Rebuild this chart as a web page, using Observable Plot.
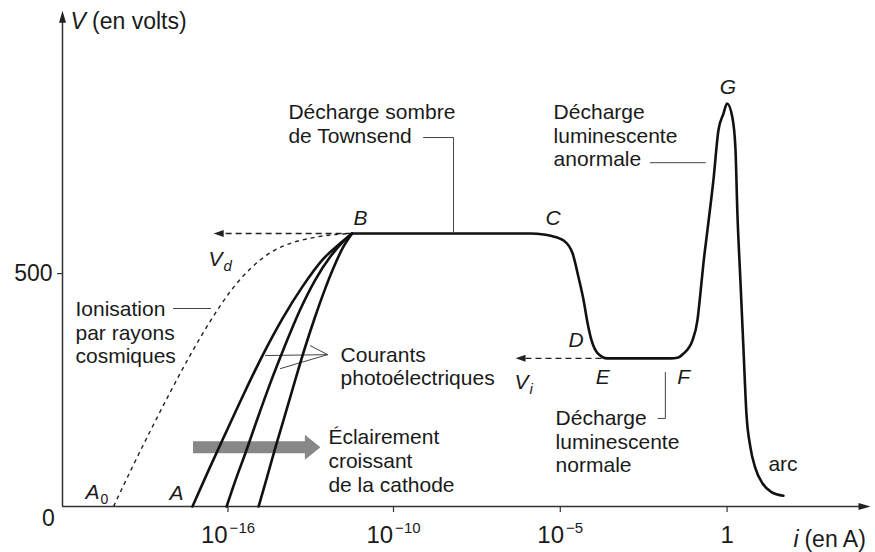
<!DOCTYPE html>
<html>
<head>
<meta charset="utf-8">
<script src="https://cdn.jsdelivr.net/npm/d3@7"></script>
<script src="https://cdn.jsdelivr.net/npm/@observablehq/plot@0.6"></script>
<style>
  body { margin: 0; background: #fff; }
  #chart svg { display: block; }
</style>
</head>
<body>
<div id="chart"></div>
<script>
// Caractéristique tension–courant d'une décharge dans un gaz.
// Le courant est porté par son exposant décimal (i = 10^x A), la tension en volts.

// Graduations
const xTicks = [-16, -10, -5, 0];
const xTickBase = ["10", "10", "10", "1"];
const xTickExp = ["−16", "−10", "−5", ""];
const yTicks = [0, 500];
const yTickLabels = ["0", "500"];

// Courbe principale B → C → D → E → F → G → arc
const mainLogI = [-11.5, -8.3, -5.9, -5.5, -5.29, -4.90, -4.63, -4.45, -4.30, -4.18, -4.06, -3.89, -3.59,
  -1.70, -1.46, -1.31, -1.04, -0.89, -0.80, -0.71, -0.59, -0.41, -0.26, -0.11, 0, 0.16, 0.25, 0.31,
  0.40, 0.49, 0.58, 0.70, 0.85, 1.06, 1.33, 1.69];
const mainV = [586, 586, 586, 584, 581, 571, 543, 491, 442, 393, 356, 330, 318,
  318, 320, 328, 356, 399, 457, 521, 592, 700, 807, 843, 865, 835, 770, 629,
  485, 341, 200, 127, 82, 50, 31, 23];

// Courants photoélectriques (éclairement croissant de la cathode)
const photo1LogI = [-17.29, -16.71, -16.09, -15.44, -14.75, -14.02, -13.30, -12.57, -11.99, -11.5];
const photo1V = [0, 77, 157, 240, 324, 404, 472, 530, 562, 586];
const photo2LogI = [-16.05, -15.73, -15.36, -14.93, -14.46, -13.95, -13.41, -12.83, -12.28, -11.85, -11.5];
const photo2V = [0, 56, 116, 189, 266, 343, 419, 487, 537, 567, 586];
const photo3LogI = [-14.89, -14.60, -14.28, -13.95, -13.59, -13.23, -12.86, -12.50, -12.17, -11.85, -11.5];
const photo3V = [0, 60, 127, 193, 266, 337, 404, 464, 513, 554, 586];

// Ionisation par rayons cosmiques (A0 → B)
const cosmicLogI = [-20.15, -19.53, -18.81, -18.08, -17.36, -16.63, -15.91, -15.18, -14.46, -13.73, -13.01, -12.28, -11.5];
const cosmicV = [0, 77, 163, 247, 326, 399, 462, 511, 545, 565, 576, 583, 586];

// Tensions de disruption Vd et d'entretien Vi
const levelArrows = [
  {name: "Vd", from: -11.5, to: -16.52, v: 586},
  {name: "Vi", from: -3.75, to: -6.34, v: 318}
];

// Flèche « éclairement croissant »
const lightArrow = {from: -17.25, to: -13.19, tip: -12.65, v: 127};

// Traits de rappel des annotations
const leaders = [
  {id: "townsend", pts: [[-9.10, 792], [-8.20, 792], [-8.20, 590]]},
  {id: "cosmic", pts: [[-17.98, 425], [-16.63, 425]]},
  {id: "anormale", pts: [[-2.30, 738], [-0.65, 738]]},
  {id: "normale", pts: [[-1.85, 288], [-1.85, 189], [-2.07, 189]]},
  {id: "photo1", pts: [[-12.39, 326], [-14.64, 324]]},
  {id: "photo2", pts: [[-12.39, 326], [-14.10, 296]]},
  {id: "photo3", pts: [[-12.39, 326], [-13.01, 345]]}
];

// Textes des régimes
const notes = [
  {x: -21.53, y: 307, text: "Ionisation\npar rayons\ncosmiques"},
  {x: -13.81, y: 781, text: "Décharge sombre\nde Townsend"},
  {x: -11.92, y: 260, text: "Courants\nphotoélectriques"},
  {x: -12.36, y: 32, text: "Éclairement\ncroissant\nde la cathode"},
  {x: -5.20, y: 730, text: "Décharge\nluminescente\nanormale"},
  {x: -5.14, y: 73, text: "Décharge\nluminescente\nnormale"},
  {x: 1.24, y: 77, text: "arc"}
];

// Titres des axes : symbole en italique puis unité
const axisTitles = [
  {x: -21.71, y: 1026, sym: "V", ux: -20.93, unit: "(en volts)"},
  {x: 1.99, y: -86, sym: "i", ux: 2.32, unit: "(en A)"}
];

// Lettres des points remarquables et symboles (italique)
const letters = [
  {x: -11.45, y: 605, text: "B"},
  {x: -5.44, y: 605, text: "C"},
  {x: -4.75, y: 343, text: "D"},
  {x: -3.94, y: 262, text: "E"},
  {x: -1.49, y: 262, text: "F"},
  {x: -0.22, y: 886, text: "G"},
  {x: -18.12, y: 13, text: "A"},
  {x: -21.17, y: 17, text: "A"},
  {x: -16.71, y: 517, text: "V"},
  {x: -6.37, y: 253, text: "V"}
];
const subscripts = [
  {x: -20.62, y: 6, text: "0", italic: false},
  {x: -16.16, y: 506, text: "d", italic: true},
  {x: -5.92, y: 242, text: "i", italic: true}
];

const font = "'Liberation Sans', Arial, Helvetica, sans-serif";
const ink = "#1a1a1a";
const pts = (xs, ys) => xs.map((x, i) => ({x, y: ys[i]}));

// Pointe de flèche pleine, sommet à l'origine, orientée vers +x
const head = (len, half) => ({
  draw(ctx) { ctx.moveTo(0, 0); ctx.lineTo(-len, -half); ctx.lineTo(-len, half); ctx.closePath(); }
});

const mainCurve = pts(mainLogI, mainV);
const photoCurves = [[photo1LogI, photo1V], [photo2LogI, photo2V], [photo3LogI, photo3V]]
  .flatMap(([xs, ys], k) => pts(xs, ys).map(d => ({...d, k})));
const cosmicCurve = pts(cosmicLogI, cosmicV);
const leaderPts = leaders.flatMap(l => l.pts.map(([x, y]) => ({x, y, id: l.id})));

// Libellés des graduations du courant : base puis exposant, l'ensemble centré sur la graduation
const tickRows = xTicks.map((t, i) => ({x: t, base: xTickBase[i], exp: xTickExp[i]}));
const tickMarks = tickRows.flatMap(r => {
  if (!r.exp) {
    return [Plot.text([r], {x: "x", y: 0, text: "base", textAnchor: "middle", lineAnchor: "bottom",
      dy: 36, fontSize: 24, fill: ink})];
  }
  const wBase = 24 * 0.556 * r.base.length;
  const wExp = 15 * (0.584 + 0.556 * (r.exp.length - 1));
  const off = (wBase - 2 - wExp) / 2;
  return [
    Plot.text([r], {x: "x", y: 0, text: "base", textAnchor: "end", lineAnchor: "bottom",
      dx: off, dy: 36, fontSize: 24, fill: ink}),
    Plot.text([r], {x: "x", y: 0, text: "exp", textAnchor: "start", lineAnchor: "bottom",
      dx: off + 2, dy: 26, fontSize: 15, fill: ink})
  ];
});

const chart = Plot.plot({
  width: 875,
  height: 552,
  marginLeft: 62, marginRight: 5, marginTop: 8, marginBottom: 46,
  x: {type: "linear", domain: [-22, -10, 4.3], range: [62, 393, 870], axis: null},
  y: {type: "linear", domain: [0, 1069], range: [506, 8], axis: null},
  style: {fontFamily: font, background: "#fff", color: ink, overflow: "visible"},
  marks: [
    // Axes et flèches
    Plot.ruleY([0], {x1: -22, x2: 4.0, stroke: "#333", strokeWidth: 1.5}),
    Plot.ruleX([-22], {y1: 0, y2: 1045, stroke: "#333", strokeWidth: 1.5}),
    Plot.dot([{x: 4.3, y: 0, r: 0}, {x: -22, y: 1064, r: -90}], {
      x: "x", y: "y", rotate: "r", symbol: head(12, 3.5), fill: "#222", stroke: "none", r: 4
    }),
    Plot.ruleX(xTicks, {y1: 0, y2: 0, insetBottom: -6, stroke: "#333", strokeWidth: 1.2}),
    Plot.ruleY(yTicks.filter(v => v > 0), {x1: -22, x2: -22, insetLeft: -5, stroke: "#333", strokeWidth: 1.2}),

    // Graduations
    Plot.text([{y: yTicks[1], t: yTickLabels[1]}], {x: -22, y: "y", text: "t", textAnchor: "end",
      dx: -10, fontSize: 23, fill: ink}),
    Plot.text([{y: yTicks[0], t: yTickLabels[0]}], {x: -22, y: "y", text: "t", textAnchor: "middle",
      lineAnchor: "bottom", dx: -14, dy: 19, fontSize: 23, fill: ink}),
    ...tickMarks,

    // Flèche grise « éclairement croissant »
    Plot.ruleY([lightArrow], {x1: "from", x2: "to", y: "v", stroke: "#878787", strokeWidth: 12}),
    Plot.dot([lightArrow], {x: "tip", y: "v", symbol: head(15.5, 12.5), fill: "#878787", stroke: "none", r: 4}),

    // Traits de rappel
    Plot.line(leaderPts, {x: "x", y: "y", z: "id", stroke: "#444", strokeWidth: 1, curve: "linear"}),

    // Tensions Vd et Vi
    Plot.ruleY(levelArrows, {x1: "from", x2: d => d.to + 0.25, y: "v", stroke: "#222", strokeWidth: 1.4,
      strokeDasharray: "6,4", strokeLinecap: "butt"}),
    Plot.dot(levelArrows, {x: "to", y: "v", rotate: 180, symbol: head(10, 3.5), fill: "#222", stroke: "none", r: 4}),

    // Ionisation par rayons cosmiques
    Plot.line(cosmicCurve, {x: "x", y: "y", stroke: "#222", strokeWidth: 1.4, strokeDasharray: "4,4",
      strokeLinecap: "butt", curve: "monotone-x"}),

    // Courants photoélectriques
    Plot.line(photoCurves, {x: "x", y: "y", z: "k", stroke: "#111", strokeWidth: 2.6, curve: "monotone-x"}),

    // Caractéristique de la décharge
    Plot.line(mainCurve, {x: "x", y: "y", stroke: "#111", strokeWidth: 2.6, curve: "monotone-x"}),

    // Textes
    Plot.text(notes, {x: "x", y: "y", text: "text", textAnchor: "start", lineAnchor: "bottom",
      lineHeight: 1.13, fontSize: 21, fill: ink}),
    Plot.text(axisTitles, {x: "x", y: "y", text: "sym", textAnchor: "start", lineAnchor: "bottom",
      fontSize: 23, fontStyle: "italic", fill: ink}),
    Plot.text(axisTitles, {x: "ux", y: "y", text: "unit", textAnchor: "start", lineAnchor: "bottom",
      fontSize: 23, fill: ink}),
    Plot.text(letters, {x: "x", y: "y", text: "text", textAnchor: "start", lineAnchor: "bottom",
      fontSize: 21, fontStyle: "italic", fill: ink}),
    Plot.text(subscripts.filter(d => d.italic), {x: "x", y: "y", text: "text", textAnchor: "start",
      lineAnchor: "bottom", fontSize: 15, fontStyle: "italic", fill: ink}),
    Plot.text(subscripts.filter(d => !d.italic), {x: "x", y: "y", text: "text", textAnchor: "start",
      lineAnchor: "bottom", fontSize: 14, fill: ink})
  ]
});

document.getElementById("chart").append(chart);
</script>
</body>
</html>
